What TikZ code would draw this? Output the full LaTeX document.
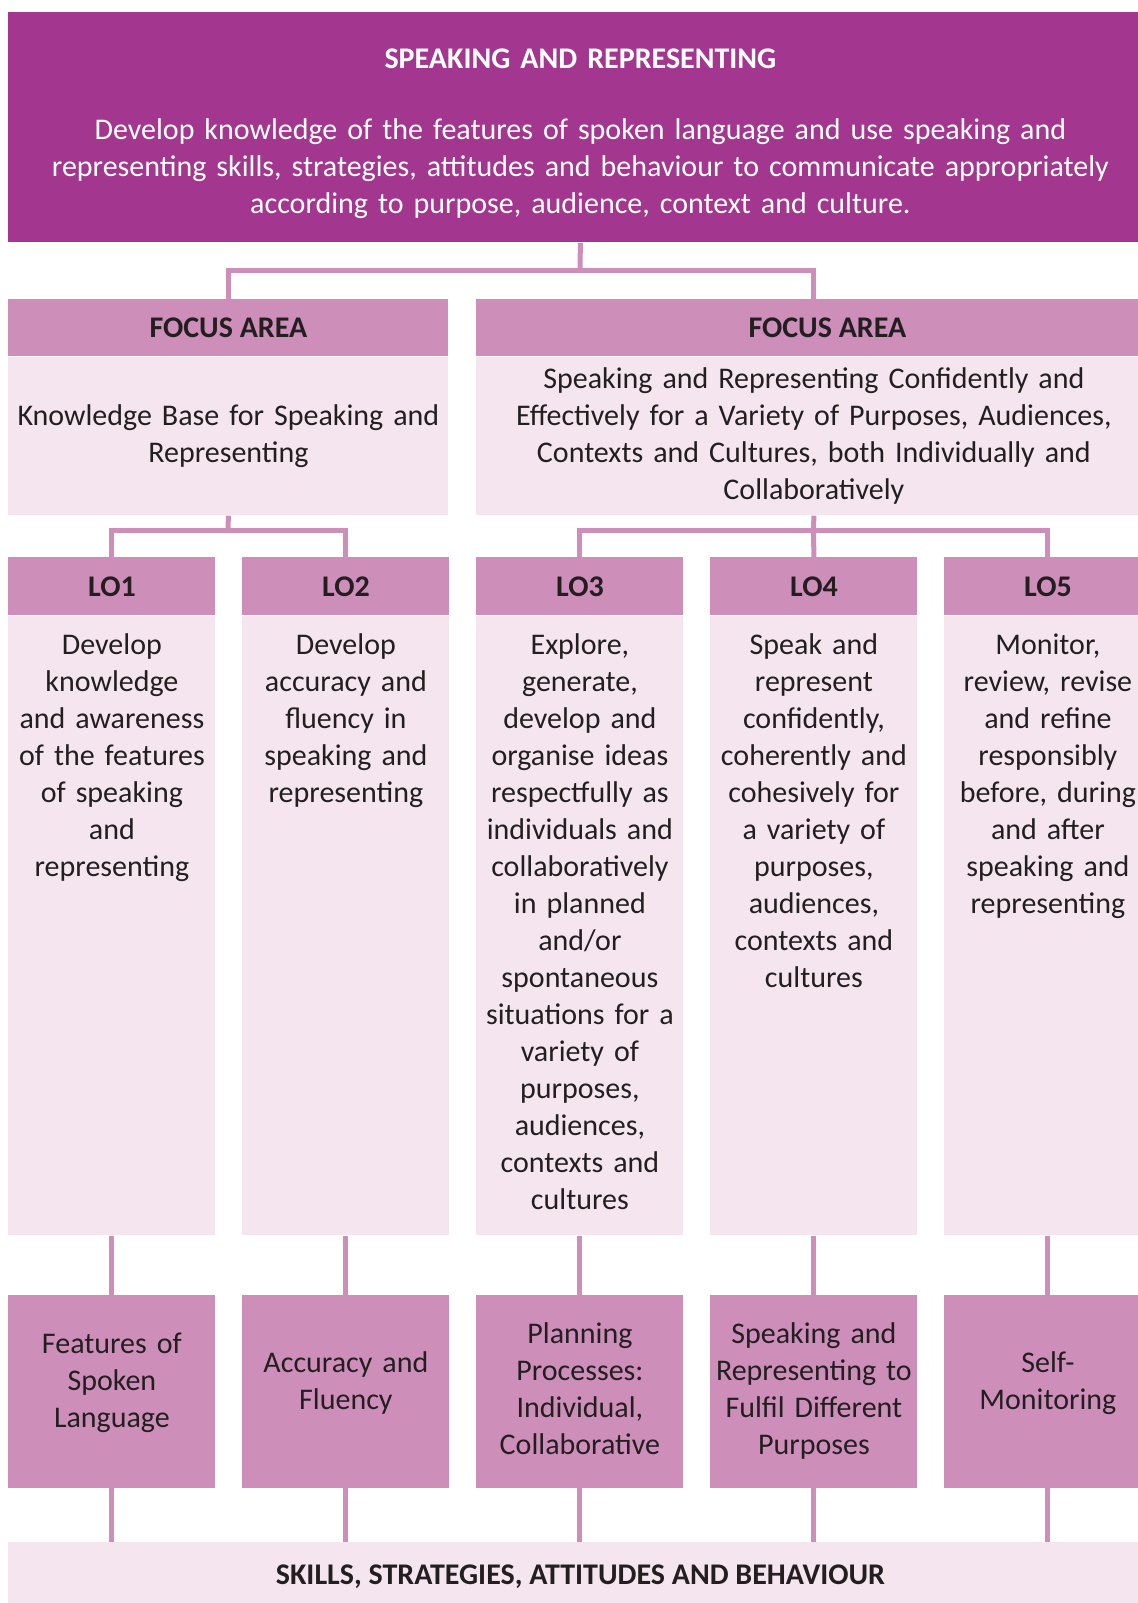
\documentclass[tikz,border=0pt]{standalone}
\usepackage{fontspec}
\setmainfont{Carlito}
\usepackage{tikz}
\usetikzlibrary{positioning}
\usepackage{xcolor}
\definecolor{srpurple}{RGB}{163,55,143}
\definecolor{srpink}{RGB}{206,142,186}
\definecolor{srpale}{RGB}{245,229,239}
\definecolor{srink}{RGB}{35,31,32}
\newcommand{\srfont}{\fontsize{15}{18.5}\selectfont}

\begin{document}
\begin{tikzpicture}[
  x=0.5pt, y=-0.5pt,
  font=\srfont, text=srink,
  topbox/.style={fill=srpurple, text=white, align=center, text width=560pt,
                 inner sep=0pt, text height=28pt, text depth=87pt},
  fahead/.style={fill=srpink, font=\srfont\bfseries, minimum height=28.5pt, inner sep=0pt},
  fabody/.style={fill=srpale, align=center, minimum height=79pt, inner sep=0pt},
  lohead/.style={fill=srpink, font=\srfont\bfseries, minimum width=103.5pt,
                 minimum height=29pt, inner sep=0pt},
  lobody/.style={fill=srpale, align=center, text width=103.5pt, inner sep=0pt,
                 text height=19pt, text depth=290.5pt},
  skill/.style={fill=srpink, align=center, text width=103.5pt, inner sep=0pt},
  band/.style={fill=srpale, font=\srfont\bfseries, minimum width=572pt, minimum height=34pt, inner sep=0pt},
  link/.style={draw=srpink, line width=2.5pt}]
\useasboundingbox (0,0) rectangle (1137,1603);
% strand
\node[topbox, text width=572pt, anchor=north west] (top) at (8,12)
  {\textbf{SPEAKING AND REPRESENTING}\\[17pt]
   Develop knowledge of the features of spoken language and use speaking and\\
   representing skills, strategies, attitudes and behaviour to communicate appropriately\\
   according to purpose, audience, context and culture.};
% focus areas
\node[fahead, minimum width=220pt, anchor=north west] (fa1h) at (8,299) {FOCUS AREA};
\node[fabody, minimum width=220pt, text width=214pt, below=0pt of fa1h] (fa1b)
  {Knowledge Base for Speaking and\\Representing};
\node[fahead, minimum width=351pt, anchor=north west] (fa2h) at (476,299) {FOCUS AREA};
\node[fabody, minimum width=337.5pt, text width=330pt, anchor=north west] (fa2b) at (fa2h.south west)
  {Speaking and Representing Confidently and\\Effectively for a Variety of Purposes, Audiences,\\
   Contexts and Cultures, both Individually and\\Collaboratively};
% learning outcomes
\foreach \i in {1,...,5}
  \node[lohead, anchor=north west] (lohd\i) at ({8+234*(\i-1)},557) {LO\i};
\node[lobody, below=0pt of lohd1] (lob1)
  {Develop\\knowledge\\and awareness\\of the features\\of speaking\\and\\representing};
\node[lobody, below=0pt of lohd2] (lob2)
  {Develop\\accuracy and\\fluency in\\speaking and\\representing};
\node[lobody, below=0pt of lohd3] (lob3)
  {Explore,\\generate,\\develop and\\organise ideas\\respectfully as\\individuals and\\collaboratively\\
   in planned\\and/or\\spontaneous\\situations for a\\variety of\\purposes,\\audiences,\\contexts and\\cultures};
\node[lobody, below=0pt of lohd4] (lob4)
  {Speak and\\represent\\confidently,\\coherently and\\cohesively for\\a variety of\\purposes,\\
   audiences,\\contexts and\\cultures};
\node[lobody, below=0pt of lohd5] (lob5)
  {Monitor,\\review, revise\\and refine\\responsibly\\before, during\\and after\\speaking and\\representing};
% skills
\node[skill, text height=29pt, text depth=67.5pt, below=29.5pt of lob1] (sk1) {Features of\\Spoken\\Language};
\node[skill, text height=38.5pt, text depth=58pt, below=29.5pt of lob2] (sk2) {Accuracy and\\Fluency};
\node[skill, text height=24pt, text depth=72.5pt, below=29.5pt of lob3] (sk3)
  {Planning\\Processes:\\Individual,\\Collaborative};
\node[skill, text height=24pt, text depth=72.5pt, below=29.5pt of lob4] (sk4)
  {Speaking and\\Representing to\\Fulfil Different\\Purposes};
\node[skill, text height=38.5pt, text depth=58pt, below=29.5pt of lob5] (sk5) {Self-\\Monitoring};
\node[band, anchor=north west] (band) at (8,1542) {SKILLS, STRATEGIES, ATTITUDES AND BEHAVIOUR};
% connectors
\coordinate (j1) at (580,270);
\coordinate (j2) at (228,530);
\coordinate (j3) at (813.5,530);
\draw[link] (top.south) -- (j1);
\draw[link] (j1) -| (fa1h.north);
\draw[link] (j1) -| (j3 |- fa2h.north);
\draw[link] (fa1b.south) -- (j2);
\draw[link] (j2) -| (lohd1.north);
\draw[link] (j2) -| (lohd2.north);
\draw[link] (fa2b.south) -- (j3);
\draw[link] (j3) -| (lohd3.north);
\draw[link] (j3) -- (lohd4.north);
\draw[link] (j3) -| (lohd5.north);
\foreach \i in {1,...,5} {
  \draw[link] (lob\i) -- (sk\i);
  \draw[link] (sk\i.south) -- (sk\i.south |- band.north);
}
\end{tikzpicture}
\end{document}
